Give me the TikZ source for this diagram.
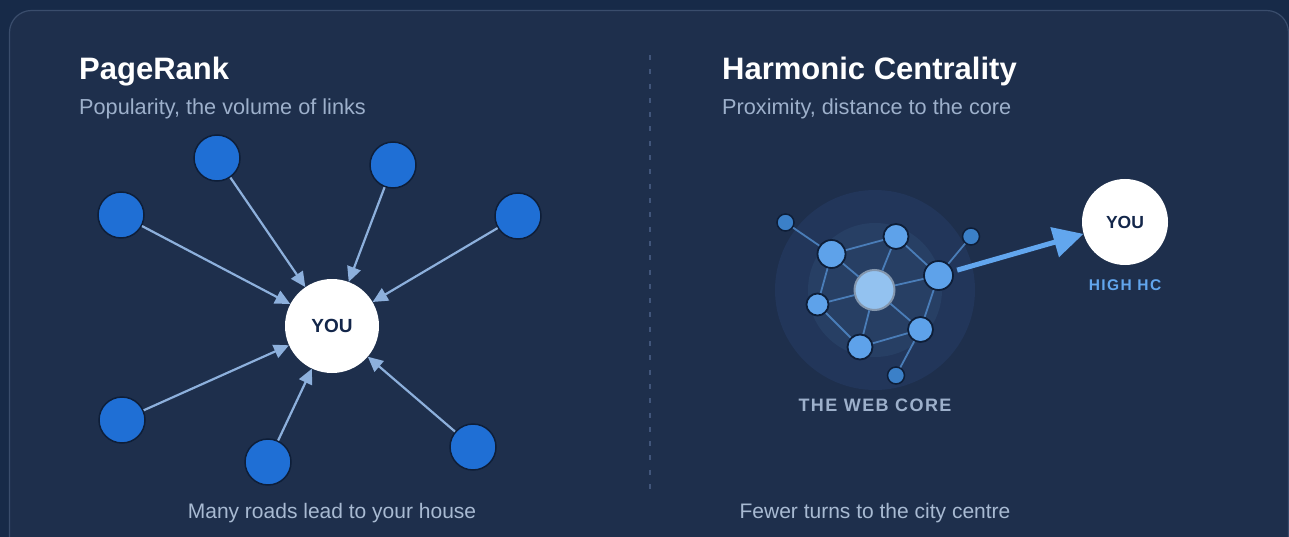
\documentclass[tikz,border=0pt]{standalone}
\usepackage{fontspec}
\setmainfont{Liberation Sans}
\usetikzlibrary{arrows.meta}
\definecolor{outerbg}{HTML}{172A48}
\definecolor{panel}{HTML}{1E2F4C}
\definecolor{panelline}{HTML}{3A4D6C}
\definecolor{subtxt}{HTML}{9DB0CB}
\definecolor{captxt}{HTML}{A8BAD2}
\definecolor{bluenode}{HTML}{1F6FD5}
\definecolor{nodeedge}{HTML}{0E1E38}
\definecolor{arrowc}{HTML}{8DB0DC}
\definecolor{navy}{HTML}{13264A}
\definecolor{ringout}{HTML}{22365A}
\definecolor{ringin}{HTML}{273F64}
\definecolor{netnode}{HTML}{5EA2EA}
\definecolor{netsmall}{HTML}{3B80C8}
\definecolor{netedge}{HTML}{4A7DB8}
\definecolor{corefill}{HTML}{93C2F0}
\definecolor{coreedge}{HTML}{8497AE}
\definecolor{hcblue}{HTML}{62A6EE}
\definecolor{dashc}{HTML}{41557A}
\begin{document}
\begin{tikzpicture}[x=1pt,y=-1pt,
  title/.style={anchor=base west, text=white, font=\bfseries\fontsize{31}{36}\selectfont, inner sep=0},
  subtitle/.style={anchor=base west, text=subtxt, font=\fontsize{21.7}{25}\selectfont, inner sep=0},
  caption/.style={anchor=base, text=captxt, font=\fontsize{21}{25}\selectfont, inner sep=0},
  pnode/.style={circle, fill=bluenode, draw=nodeedge, line width=1.5pt, minimum size=46pt, inner sep=0},
  younode/.style={circle, fill=white, inner sep=0, text=navy},
  parrow/.style={draw=arrowc, line width=2.2pt, -{Triangle[length=15pt,width=14pt]}},
  netn/.style={circle, fill=netnode, draw=nodeedge, line width=1.8pt, inner sep=0},
  nets/.style={circle, fill=netsmall, draw=nodeedge, line width=1.5pt, inner sep=0, minimum size=17pt},
  netl/.style={draw=netedge, line width=1.8pt},
]
\useasboundingbox (0,0) rectangle (1289,537);
\fill[outerbg] (0,0) rectangle (1289,537);
\begin{scope}
\clip (0,0) rectangle (1289,537);
\draw[panelline, fill=panel, line width=1.2pt, rounded corners=22pt] (9.5,10.5) rectangle (1288.5,570);
\end{scope}
\draw[dashc, line width=1.4pt, dash pattern=on 5pt off 9.3pt] (650,55) -- (650,490);

% ---------- left panel ----------
\node[title] (t1) at (79,80) {PageRank};
\node[subtitle] (s1) at (79,115) {Popularity, the volume of links};
\node[younode, minimum size=94pt, font=\bfseries\fontsize{19}{21}\selectfont] (you1) at (332,326) {YOU};
\node[pnode] (p1) at (217,158) {};
\node[pnode] (p2) at (121,215) {};
\node[pnode] (p3) at (393,165) {};
\node[pnode] (p4) at (518,216) {};
\node[pnode] (p5) at (122,420) {};
\node[pnode] (p6) at (268,462) {};
\node[pnode] (p7) at (473,447) {};
\foreach \p in {p1,p2,p3,p4,p5,p6,p7} \draw[parrow] (\p) -- (you1);
\node[caption] (c1) at (332,518) {Many roads lead to your house};

% ---------- right panel ----------
\node[title] (t2) at (722,80) {Harmonic Centrality};
\node[subtitle] (s2) at (722,115) {Proximity, distance to the core};
\fill[ringout] (875,290) circle (100);
\fill[ringin] (875,290) circle (67);
\node[circle, fill=corefill, draw=coreedge, line width=2pt, minimum size=40pt, inner sep=0] (core) at (874.5,290) {};
\node[netn, minimum size=28pt] (na) at (831.5,254) {};
\node[netn, minimum size=25pt] (nb) at (896,236.5) {};
\node[netn, minimum size=29pt] (nc) at (938.5,275.5) {};
\node[netn, minimum size=22pt] (nd) at (817.5,304.5) {};
\node[netn, minimum size=25pt] (ne) at (860,347) {};
\node[netn, minimum size=25pt] (nf) at (920.5,329.5) {};
\node[nets] (ng) at (785.5,222.5) {};
\node[nets] (nh) at (971,236.5) {};
\node[nets] (ni) at (896,375.5) {};
\foreach \a/\b in {ng/na, na/nb, nb/nc, nc/nh, na/nd, nd/ne, ne/nf, nf/nc, nf/ni,
  core/na, core/nb, core/nc, core/nd, core/ne, core/nf}
  \draw[netl] (\a) -- (\b);
\node[younode, minimum size=86pt, font=\bfseries\fontsize{17.5}{19}\selectfont] (you2) at (1125,222) {YOU};
\draw[hcblue, line width=5pt, shorten <=4pt, -{Triangle[length=30pt,width=30pt]}] (nc) -- (you2);
\node[anchor=base, text=hcblue, inner sep=0, font=\bfseries\fontsize{15.5}{18}\selectfont\addfontfeatures{LetterSpace=9}] (hc) at (1125,290) {HIGH HC};
\node[anchor=base, text=subtxt, inner sep=0, font=\bfseries\fontsize{18}{20}\selectfont\addfontfeatures{LetterSpace=8}] (wc) at (875,411) {THE WEB CORE};
\node[caption] (c2) at (875,518) {Fewer turns to the city centre};
\end{tikzpicture}
\end{document}
